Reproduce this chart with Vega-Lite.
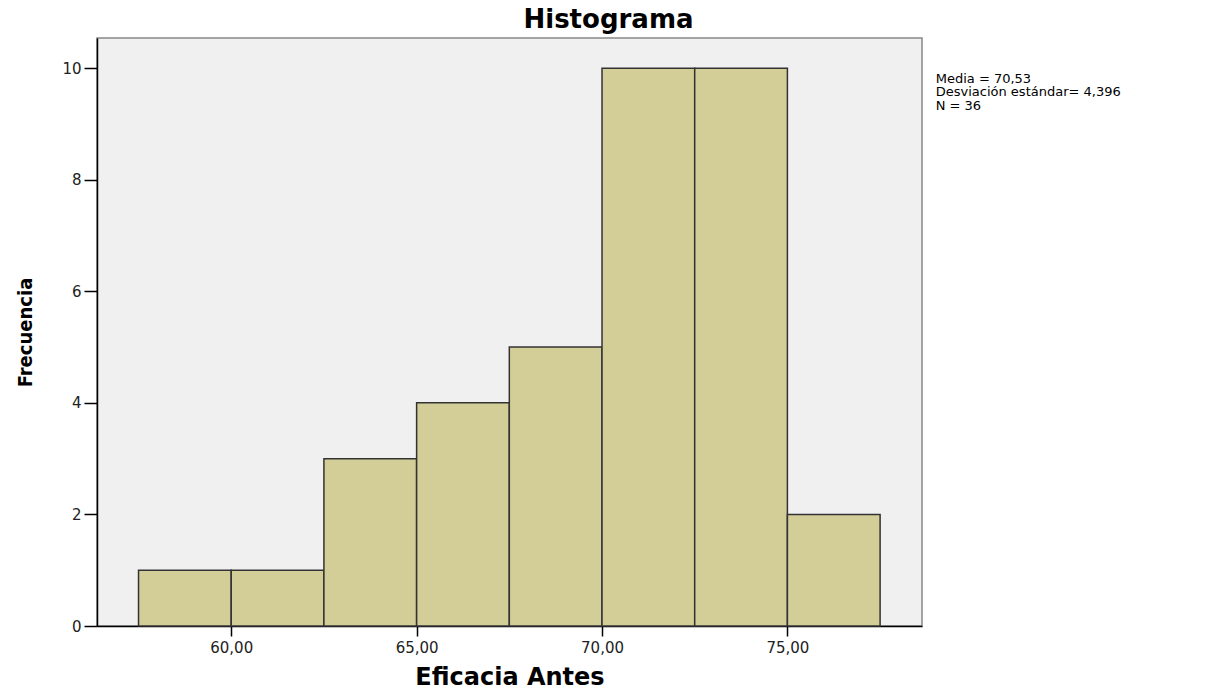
{
  "$schema": "https://vega.github.io/schema/vega-lite/v6.json",
  "width": 825,
  "height": 588,
  "autosize": {"type": "none"},
  "padding": {"left": 97, "top": 38, "right": 295, "bottom": 71},
  "background": "white",
  "title": {
    "text": "Histograma",
    "font": "DejaVu Sans",
    "fontSize": 26,
    "fontWeight": "bold",
    "color": "black",
    "anchor": "middle",
    "frame": "group",
    "dx": 99,
    "offset": 5
  },
  "config": {
    "view": {"fill": "#f0f0f0", "stroke": "#888888", "strokeWidth": 1.5},
    "axis": {"grid": false, "domainColor": "black", "domainWidth": 1.5, "tickColor": "black", "tickWidth": 1.5,
      "labelFont": "DejaVu Sans", "labelFontSize": 15, "labelColor": "#222222",
      "titleFont": "DejaVu Sans", "titleFontWeight": "bold", "titleColor": "black"}
  },
  "layer": [
    {
      "data": {"values": [
        {"bin_start": 57.5, "bin_end": 60.0, "count": 1},
        {"bin_start": 60.0, "bin_end": 62.5, "count": 1},
        {"bin_start": 62.5, "bin_end": 65.0, "count": 3},
        {"bin_start": 65.0, "bin_end": 67.5, "count": 4},
        {"bin_start": 67.5, "bin_end": 70.0, "count": 5},
        {"bin_start": 70.0, "bin_end": 72.5, "count": 10},
        {"bin_start": 72.5, "bin_end": 75.0, "count": 10},
        {"bin_start": 75.0, "bin_end": 77.5, "count": 2}
      ]},
      "mark": {"type": "bar", "fill": "#d3ce98", "stroke": "#333333", "strokeWidth": 1.5},
      "encoding": {
        "x": {"field": "bin_start", "type": "quantitative",
          "scale": {"domain": [56.38, 78.63], "nice": false, "zero": false},
          "axis": {"values": [60, 65, 70, 75], "tickSize": 10, "labelPadding": 4,
            "labelExpr": "replace(format(datum.value, '.2f'), '.', ',')",
            "title": "Eficacia Antes", "titleFontSize": 24, "titlePadding": 10}},
        "x2": {"field": "bin_end"},
        "y": {"field": "count", "type": "quantitative",
          "scale": {"domain": [0, 10.54], "nice": false},
          "axis": {"values": [0, 2, 4, 6, 8, 10], "format": "d", "tickSize": 13, "labelPadding": 3,
            "title": "Frecuencia", "titleFont": "DejaVu Sans Condensed", "titleFontSize": 20, "titlePadding": 26}},
        "y2": {"datum": 0}
      }
    },
    {
      "data": {"values": [{"label": "stats"}]},
      "mark": {"type": "text", "align": "left", "baseline": "alphabetic", "font": "DejaVu Sans", "fontSize": 13, "lineHeight": 13.5, "color": "black", "clip": false},
      "encoding": {
        "x": {"datum": 79.0, "type": "quantitative"},
        "y": {"datum": 9.742, "type": "quantitative"},
        "text": {"value": ["Media = 70,53", "Desviación estándar= 4,396", "N = 36"]}
      }
    }
  ]
}
